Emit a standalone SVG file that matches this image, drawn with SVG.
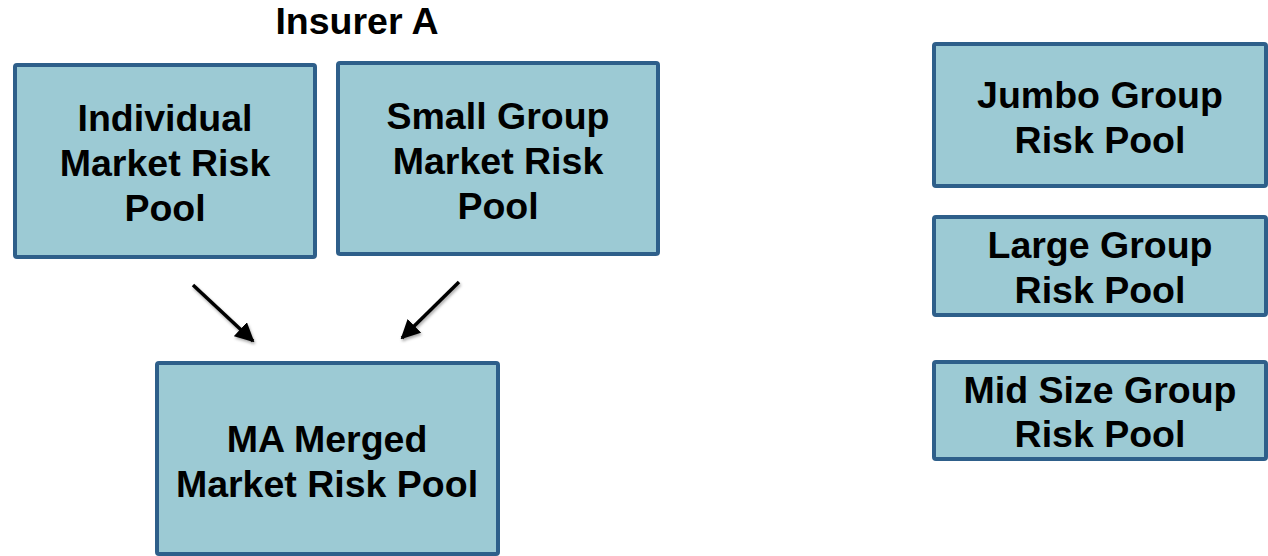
<svg xmlns="http://www.w3.org/2000/svg" width="1268" height="556" viewBox="0 0 1268 556">
<style>
.box{fill:#9CCAD4;stroke:#2E5F8A;stroke-width:4}
.t{font-family:"Liberation Sans",Arial,sans-serif;font-weight:bold;font-size:37.5px;fill:#000;text-anchor:middle}
.c{stroke:#000;stroke-width:3.5;fill:none}
</style>
<defs>
<marker id="ah" viewBox="0 0 10 10" refX="9" refY="5" markerWidth="5.5" markerHeight="5.5" orient="auto" markerUnits="strokeWidth">
<path d="M0,0 L10,5 L0,10 Z" fill="#000"/>
</marker>
<filter id="sh" x="-20%" y="-20%" width="140%" height="140%">
<feDropShadow dx="1" dy="2" stdDeviation="1.5" flood-color="#000" flood-opacity="0.35"/>
</filter>
</defs>
<text class="t" x="357" y="34">Insurer A</text>
<g id="individual">
<rect class="box" x="15" y="65" width="300" height="192" rx="2"/>
<text class="t" x="165" y="131">Individual</text>
<text class="t" x="165" y="176">Market Risk</text>
<text class="t" x="165" y="221">Pool</text>
</g>
<g id="smallgroup">
<rect class="box" x="338" y="63" width="320" height="191" rx="2"/>
<text class="t" x="498" y="129">Small Group</text>
<text class="t" x="498" y="174">Market Risk</text>
<text class="t" x="498" y="219">Pool</text>
</g>
<g id="merged">
<rect class="box" x="157" y="363" width="341" height="191" rx="2"/>
<text class="t" x="327" y="452">MA Merged</text>
<text class="t" x="327" y="497">Market Risk Pool</text>
</g>
<g id="jumbo">
<rect class="box" x="934" y="44" width="332" height="142" rx="2"/>
<text class="t" x="1100" y="108">Jumbo Group</text>
<text class="t" x="1100" y="153">Risk Pool</text>
</g>
<g id="large">
<rect class="box" x="934" y="217" width="332" height="98" rx="2"/>
<text class="t" x="1100" y="258">Large Group</text>
<text class="t" x="1100" y="303">Risk Pool</text>
</g>
<g id="midsize">
<rect class="box" x="934" y="362" width="332" height="97" rx="2"/>
<text class="t" x="1100" y="403">Mid Size Group</text>
<text class="t" x="1100" y="447">Risk Pool</text>
</g>
<g id="connectors" filter="url(#sh)">
<line class="c" x1="193" y1="285" x2="253" y2="341" marker-end="url(#ah)"/>
<line class="c" x1="459" y1="282" x2="402" y2="338" marker-end="url(#ah)"/>
</g>
</svg>
